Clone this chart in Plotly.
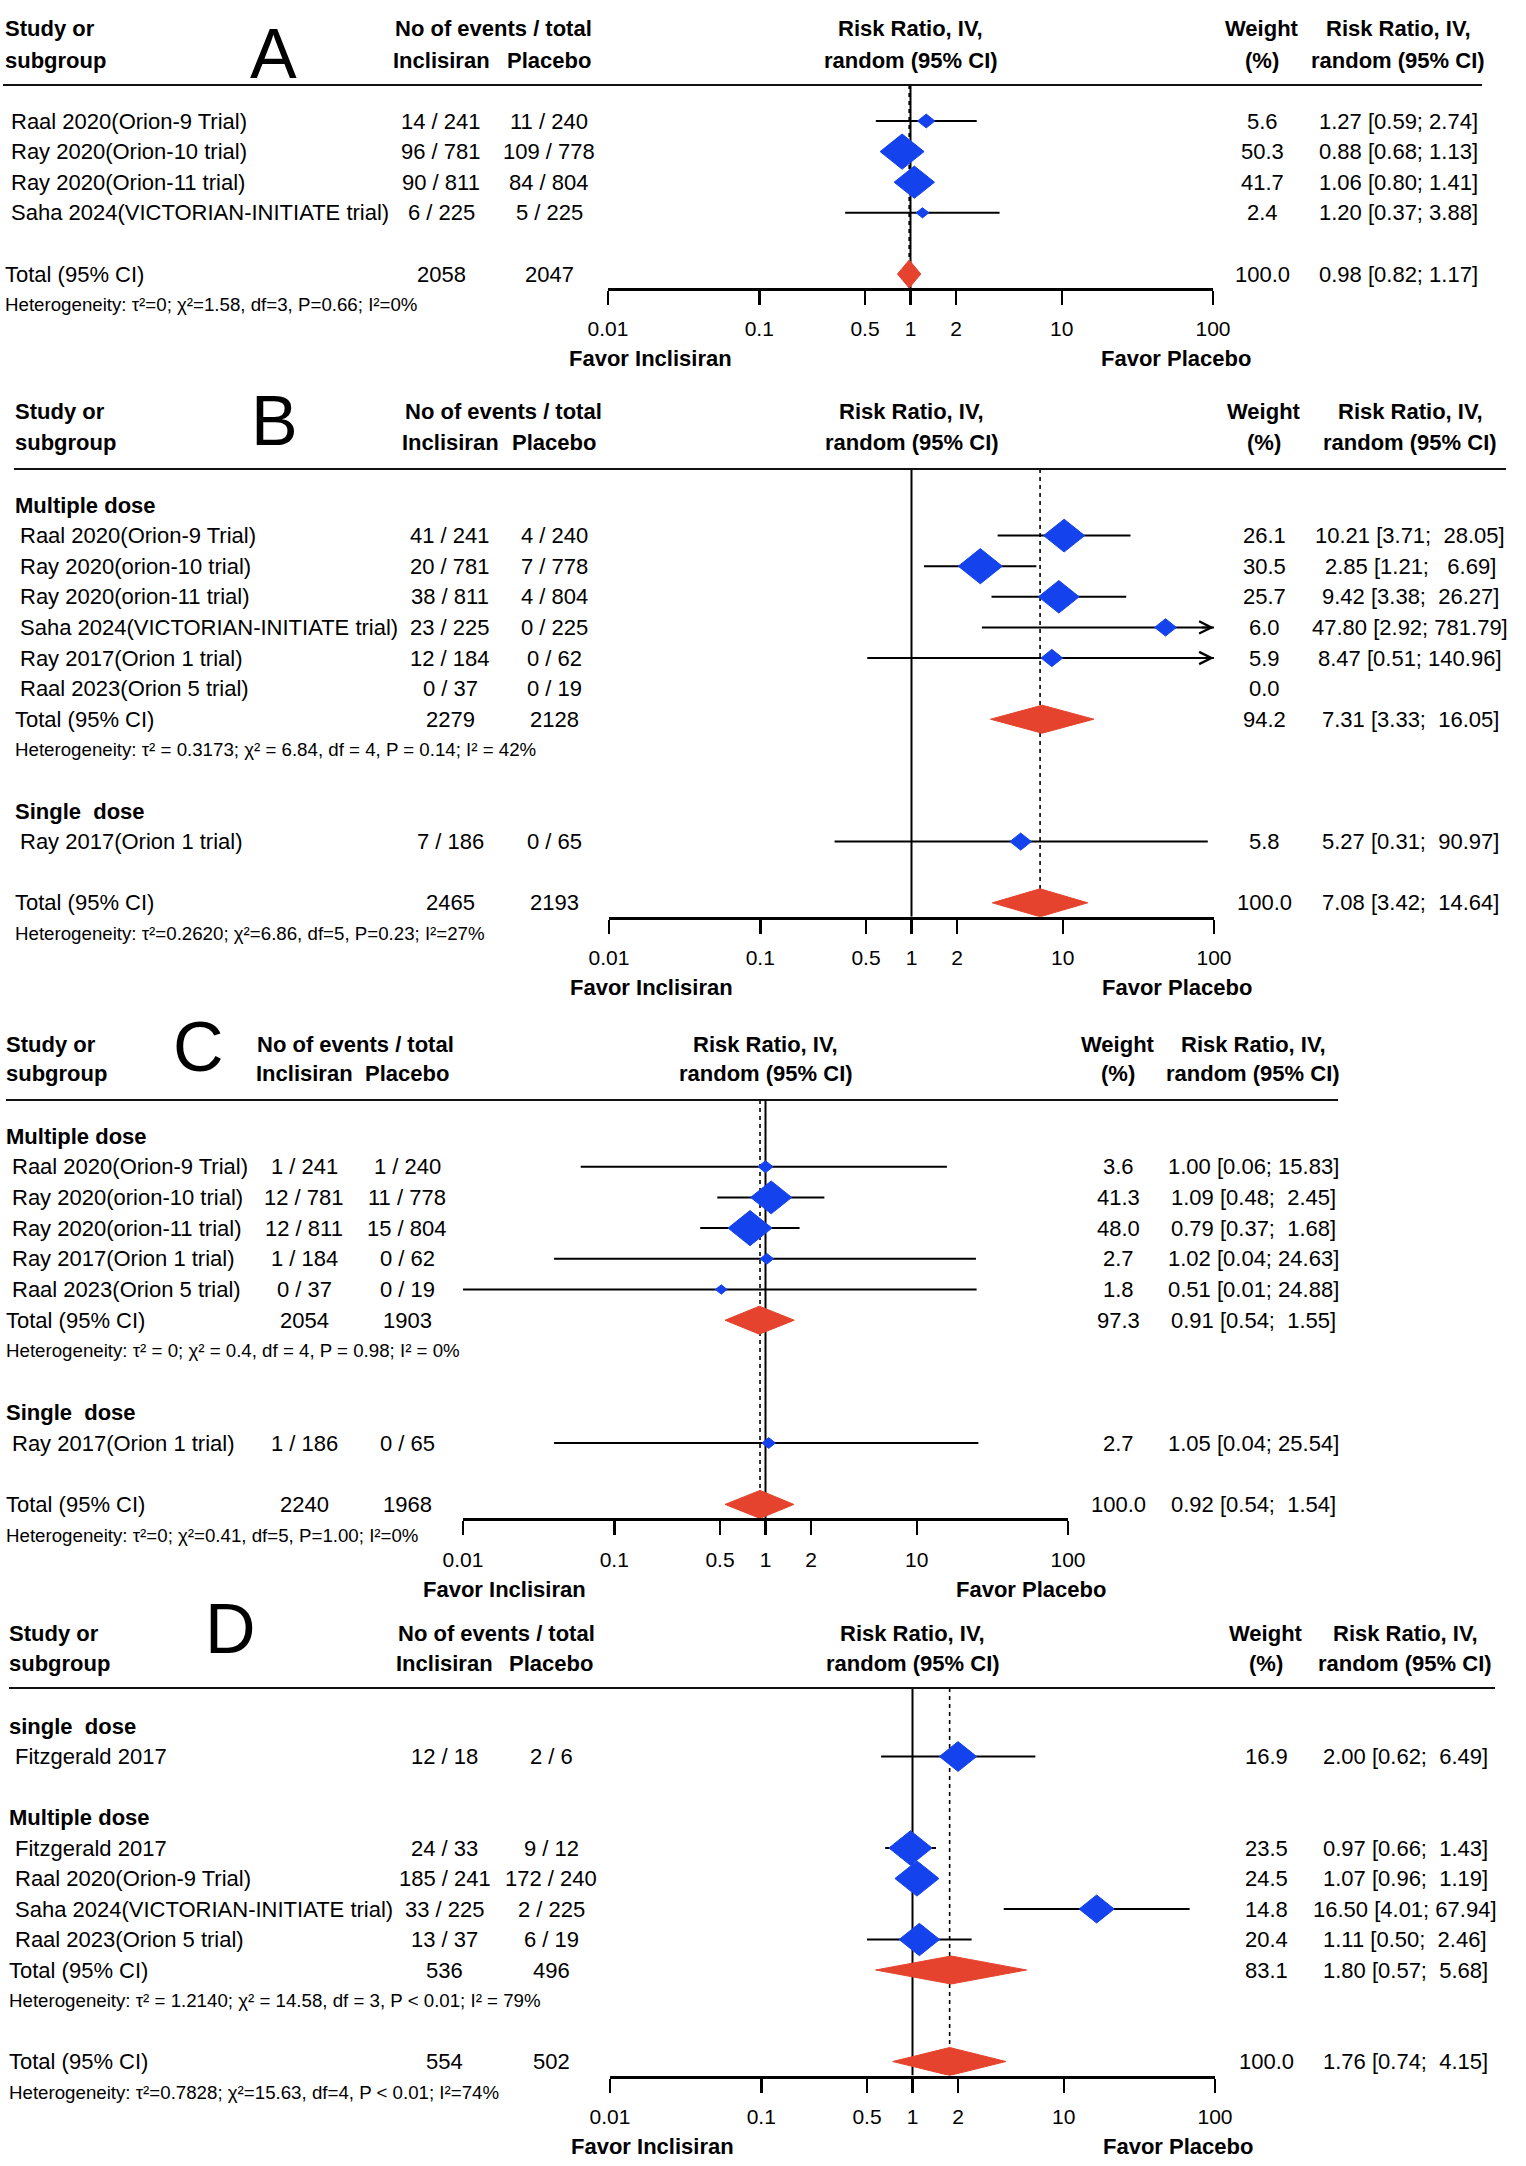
import math
import plotly.graph_objects as go

W, H = 1526, 2166
FONT = "Liberation Sans, Arial, Helvetica, sans-serif"
BLUE = "#1443EE"
RED = "#E5432D"
NULL_RR = 1.0

# ======================= DATA =======================
# ---- Panel A ----
A_study = ["Raal 2020(Orion-9 Trial)", "Ray 2020(Orion-10 trial)", "Ray 2020(Orion-11 trial)",
           "Saha 2024(VICTORIAN-INITIATE trial)"]
A_group = [None, None, None, None]
A_inc_ev = [14, 96, 90, 6]
A_inc_n = [241, 781, 811, 225]
A_pla_ev = [11, 109, 84, 5]
A_pla_n = [240, 778, 804, 225]
A_weight = [5.6, 50.3, 41.7, 2.4]
A_rr = [1.27, 0.88, 1.06, 1.20]
A_lo = [0.59, 0.68, 0.80, 0.37]
A_hi = [2.74, 1.13, 1.41, 3.88]
A_sub_name = []
A_sub_inc = []
A_sub_pla = []
A_sub_weight = []
A_sub_rr = []
A_sub_lo = []
A_sub_hi = []
A_sub_het = []
A_tot_inc = 2058
A_tot_pla = 2047
A_tot_weight = 100.0
A_tot_rr = 0.98
A_tot_lo = 0.82
A_tot_hi = 1.17
A_tot_het = "Heterogeneity: τ²=0; χ²=1.58, df=3, P=0.66; I²=0%"

# ---- Panel B ----
B_study = ["Raal 2020(Orion-9 Trial)", "Ray 2020(orion-10 trial)", "Ray 2020(orion-11 trial)",
           "Saha 2024(VICTORIAN-INITIATE trial)", "Ray 2017(Orion 1 trial)", "Raal 2023(Orion 5 trial)",
           "Ray 2017(Orion 1 trial)"]
B_group = ["Multiple dose", "Multiple dose", "Multiple dose", "Multiple dose", "Multiple dose",
           "Multiple dose", "Single  dose"]
B_inc_ev = [41, 20, 38, 23, 12, 0, 7]
B_inc_n = [241, 781, 811, 225, 184, 37, 186]
B_pla_ev = [4, 7, 4, 0, 0, 0, 0]
B_pla_n = [240, 778, 804, 225, 62, 19, 65]
B_weight = [26.1, 30.5, 25.7, 6.0, 5.9, 0.0, 5.8]
B_rr = [10.21, 2.85, 9.42, 47.80, 8.47, None, 5.27]
B_lo = [3.71, 1.21, 3.38, 2.92, 0.51, None, 0.31]
B_hi = [28.05, 6.69, 26.27, 781.79, 140.96, None, 90.97]
B_sub_name = ["Multiple dose", "Single  dose"]
B_sub_inc = [2279, None]
B_sub_pla = [2128, None]
B_sub_weight = [94.2, None]
B_sub_rr = [7.31, None]
B_sub_lo = [3.33, None]
B_sub_hi = [16.05, None]
B_sub_het = ["Heterogeneity: τ² = 0.3173; χ² = 6.84, df = 4, P = 0.14; I² = 42%", None]
B_tot_inc = 2465
B_tot_pla = 2193
B_tot_weight = 100.0
B_tot_rr = 7.08
B_tot_lo = 3.42
B_tot_hi = 14.64
B_tot_het = "Heterogeneity: τ²=0.2620; χ²=6.86, df=5, P=0.23; I²=27%"

# ---- Panel C ----
C_study = ["Raal 2020(Orion-9 Trial)", "Ray 2020(orion-10 trial)", "Ray 2020(orion-11 trial)",
           "Ray 2017(Orion 1 trial)", "Raal 2023(Orion 5 trial)", "Ray 2017(Orion 1 trial)"]
C_group = ["Multiple dose", "Multiple dose", "Multiple dose", "Multiple dose", "Multiple dose",
           "Single  dose"]
C_inc_ev = [1, 12, 12, 1, 0, 1]
C_inc_n = [241, 781, 811, 184, 37, 186]
C_pla_ev = [1, 11, 15, 0, 0, 0]
C_pla_n = [240, 778, 804, 62, 19, 65]
C_weight = [3.6, 41.3, 48.0, 2.7, 1.8, 2.7]
C_rr = [1.00, 1.09, 0.79, 1.02, 0.51, 1.05]
C_lo = [0.06, 0.48, 0.37, 0.04, 0.01, 0.04]
C_hi = [15.83, 2.45, 1.68, 24.63, 24.88, 25.54]
C_sub_name = ["Multiple dose", "Single  dose"]
C_sub_inc = [2054, None]
C_sub_pla = [1903, None]
C_sub_weight = [97.3, None]
C_sub_rr = [0.91, None]
C_sub_lo = [0.54, None]
C_sub_hi = [1.55, None]
C_sub_het = ["Heterogeneity: τ² = 0; χ² = 0.4, df = 4, P = 0.98; I² = 0%", None]
C_tot_inc = 2240
C_tot_pla = 1968
C_tot_weight = 100.0
C_tot_rr = 0.92
C_tot_lo = 0.54
C_tot_hi = 1.54
C_tot_het = "Heterogeneity: τ²=0; χ²=0.41, df=5, P=1.00; I²=0%"

# ---- Panel D ----
D_study = ["Fitzgerald 2017", "Fitzgerald 2017", "Raal 2020(Orion-9 Trial)",
           "Saha 2024(VICTORIAN-INITIATE trial)", "Raal 2023(Orion 5 trial)"]
D_group = ["single  dose", "Multiple dose", "Multiple dose", "Multiple dose", "Multiple dose"]
D_inc_ev = [12, 24, 185, 33, 13]
D_inc_n = [18, 33, 241, 225, 37]
D_pla_ev = [2, 9, 172, 2, 6]
D_pla_n = [6, 12, 240, 225, 19]
D_weight = [16.9, 23.5, 24.5, 14.8, 20.4]
D_rr = [2.00, 0.97, 1.07, 16.50, 1.11]
D_lo = [0.62, 0.66, 0.96, 4.01, 0.50]
D_hi = [6.49, 1.43, 1.19, 67.94, 2.46]
D_sub_name = ["single  dose", "Multiple dose"]
D_sub_inc = [None, 536]
D_sub_pla = [None, 496]
D_sub_weight = [None, 83.1]
D_sub_rr = [None, 1.80]
D_sub_lo = [None, 0.57]
D_sub_hi = [None, 5.68]
D_sub_het = [None, "Heterogeneity: τ² = 1.2140; χ² = 14.58, df = 3, P &lt; 0.01; I² = 79%"]
D_tot_inc = 554
D_tot_pla = 502
D_tot_weight = 100.0
D_tot_rr = 1.76
D_tot_lo = 0.74
D_tot_hi = 4.15
D_tot_het = "Heterogeneity: τ²=0.7828; χ²=15.63, df=4, P &lt; 0.01; I²=74%"

# axis ticks
TICK_VALS = [0.01, 0.1, 0.5, 1, 2, 10, 100]
TICK_TEXT = ["0.01", "0.1", "0.5", "1", "2", "10", "100"]


# ======================= build panel tables from arrays =======================
def panel(pfx):
    g = globals()
    keys = ["study", "group", "inc_ev", "inc_n", "pla_ev", "pla_n", "weight", "rr", "lo", "hi",
            "sub_name", "sub_inc", "sub_pla", "sub_weight", "sub_rr", "sub_lo", "sub_hi", "sub_het",
            "tot_inc", "tot_pla", "tot_weight", "tot_rr", "tot_lo", "tot_hi", "tot_het"]
    return {k: g[f"{pfx}_{k}"] for k in keys}


PANELS = {k: panel(k) for k in ["A", "B", "C", "D"]}

# ======================= LAYOUT (pixel positions / styles) =======================
LAYOUTS = {
    "A": dict(letter="A", letter_xy=(273, 54), head_y=(29, 61), line_y=85, line_x=(3, 1482),
              first_y=121, pitch=30.6, label_x=5, indent_x=11, incl_x=441, plac_x=549, nev_left=395,
              weight_x=1262, rr_x=1398, x001=608, x100=1213),
    "B": dict(letter="B", letter_xy=(274, 421), head_y=(412, 443), line_y=469, line_x=(14, 1506),
              first_y=505, pitch=30.6, label_x=15, indent_x=20, incl_x=450, plac_x=554, nev_left=405,
              weight_x=1264, rr_x=1410, x001=609, x100=1214),
    "C": dict(letter="C", letter_xy=(199, 1047), head_y=(1044, 1074), line_y=1100, line_x=(6, 1338),
              first_y=1136, pitch=30.7, label_x=6, indent_x=12, incl_x=304, plac_x=407, nev_left=257,
              weight_x=1118, rr_x=1253, x001=463, x100=1068),
    "D": dict(letter="D", letter_xy=(230, 1629), head_y=(1633, 1663), line_y=1688, line_x=(9, 1495),
              first_y=1726, pitch=30.5, label_x=9, indent_x=14.5, incl_x=445, plac_x=551, nev_left=398,
              weight_x=1266, rr_x=1405, x001=610, x100=1215),
}

BODY = 22
TICK = 21
HET = 18.7

annotations = []
shapes = []
traces = []


def nb(s):
    return s.replace(" ", "\u00a0")


def py(y):
    return 1 - y / H


def txt(x, y, s, size=BODY, anchor="left", bold=False):
    if bold:
        s = "<b>" + s + "</b>"
    annotations.append(dict(x=x / W, y=py(y), xref="paper", yref="paper", text=s, showarrow=False,
                            xanchor=anchor, yanchor="middle", borderpad=0, borderwidth=0,
                            font=dict(family=FONT, size=size, color="black")))


def slots(P):
    out = []
    s = 0
    if P["sub_name"]:
        for gi, gname in enumerate(P["sub_name"]):
            out.append((s, "group", gi)); s += 1
            for i, gg in enumerate(P["group"]):
                if gg == gname:
                    out.append((s, "study", i)); s += 1
            if P["sub_inc"][gi] is not None:
                out.append((s, "subtotal", gi)); s += 1
                out.append((s, "subhet", gi)); s += 1
            s += 1
    else:
        for i in range(len(P["study"])):
            out.append((s, "study", i)); s += 1
        s += 1
    out.append((s, "total", None)); s += 1
    out.append((s, "het", None))
    return out


layout_axes = {}
for pi, key in enumerate(["A", "B", "C", "D"]):
    P = PANELS[key]
    L = LAYOUTS[key]
    sfx = "" if pi == 0 else str(pi + 1)
    xa, ya = "x" + sfx, "y" + sfx
    ppd = (L["x100"] - L["x001"]) / 4.0
    x_of = lambda v: L["x001"] + ppd * (math.log10(v) + 2)

    rows = slots(P)
    ry = {}
    for s, kind, idx in rows:
        ry[(kind, idx)] = L["first_y"] + L["pitch"] * s
    total_y = ry[("total", None)]
    axis_y = total_y + 14

    his = [h for h in P["hi"] if h is not None] + [h for h in P["sub_hi"] if h is not None] + [P["tot_hi"]]
    hw = max(len(f"{h:.2f}") for h in his)

    def ci_text(r, lo, hi):
        return nb(f"{r:.2f} [{lo:.2f}; {hi:>{hw}.2f}]")

    # ---- header texts
    hy1, hy2 = L["head_y"]
    txt(L["label_x"], hy1, "Study or", bold=True)
    txt(L["label_x"], hy2, "subgroup", bold=True)
    txt(L["nev_left"], hy1, "No of events / total", bold=True)
    txt(L["incl_x"], hy2, "Inclisiran", anchor="center", bold=True)
    txt(L["plac_x"], hy2, "Placebo", anchor="center", bold=True)
    xc1 = x_of(NULL_RR)
    txt(xc1, hy1, "Risk Ratio, IV,", anchor="center", bold=True)
    txt(xc1, hy2, "random (95% CI)", anchor="center", bold=True)
    txt(L["weight_x"], hy1, "Weight", anchor="center", bold=True)
    txt(L["weight_x"], hy2, "(%)", anchor="center", bold=True)
    txt(L["rr_x"], hy1, "Risk Ratio, IV,", anchor="center", bold=True)
    txt(L["rr_x"], hy2, "random (95% CI)", anchor="center", bold=True)
    lx, ly = L["letter_xy"]
    txt(lx, ly, L["letter"], size=70, anchor="center")

    shapes.append(dict(type="line", xref="paper", yref="paper", x0=L["line_x"][0] / W, x1=L["line_x"][1] / W,
                       y0=py(L["line_y"]), y1=py(L["line_y"]), line=dict(color="#111111", width=2)))

    # ---- reference lines
    traces.append(go.Scatter(x=[NULL_RR, NULL_RR], y=[L["line_y"], axis_y], xaxis=xa, yaxis=ya,
                             mode="lines", line=dict(color="black", width=2), hoverinfo="skip"))
    traces.append(go.Scatter(x=[P["tot_rr"], P["tot_rr"]], y=[L["line_y"], axis_y], xaxis=xa, yaxis=ya,
                             mode="lines", line=dict(color="black", width=1.6, dash="4px,4px"),
                             hoverinfo="skip"))

    ci_x, ci_y = [], []
    dm_x, dm_y = [], []
    sm_x, sm_y = [], []
    wmax = max(P["weight"])
    for s, kind, idx in rows:
        y = ry[(kind, idx)]
        if kind == "group":
            txt(L["label_x"], y, nb(P["sub_name"][idx]), bold=True)
        elif kind == "study":
            i = idx
            txt(L["indent_x"], y, P["study"][i])
            txt(L["incl_x"], y, f"{P['inc_ev'][i]} / {P['inc_n'][i]}", anchor="center")
            txt(L["plac_x"], y, f"{P['pla_ev'][i]} / {P['pla_n'][i]}", anchor="center")
            txt(L["weight_x"], y, f"{P['weight'][i]:.1f}", anchor="center")
            r = P["rr"][i]
            if r is not None:
                lo, hi = P["lo"][i], P["hi"][i]
                txt(L["rr_x"], y, ci_text(r, lo, hi), anchor="center")
                ci_x += [lo, hi, None]
                ci_y += [y, y, None]
                hwp = 2 + 20 * math.sqrt(P["weight"][i] / wmax)
                dl = hwp / ppd
                vh = 0.8 * hwp
                dm_x += [r * 10 ** -dl, r, r * 10 ** dl, r, r * 10 ** -dl, None]
                dm_y += [y, y - vh, y, y + vh, y, None]
                if hi > TICK_VALS[-1]:
                    annotations.append(dict(x=math.log10(TICK_VALS[-1]), y=y, xref=xa, yref=ya, text="",
                                            showarrow=True, ax=-14, ay=0, arrowhead=5, arrowsize=1.2,
                                            arrowwidth=2, arrowcolor="black", standoff=0))
        elif kind in ("subtotal", "total"):
            if kind == "subtotal":
                ninc, npla, w = P["sub_inc"][idx], P["sub_pla"][idx], P["sub_weight"][idx]
                r, lo, hi = P["sub_rr"][idx], P["sub_lo"][idx], P["sub_hi"][idx]
            else:
                ninc, npla, w = P["tot_inc"], P["tot_pla"], P["tot_weight"]
                r, lo, hi = P["tot_rr"], P["tot_lo"], P["tot_hi"]
            txt(L["label_x"], y, "Total (95% CI)")
            txt(L["incl_x"], y, str(ninc), anchor="center")
            txt(L["plac_x"], y, str(npla), anchor="center")
            txt(L["weight_x"], y, f"{w:.1f}", anchor="center")
            txt(L["rr_x"], y, ci_text(r, lo, hi), anchor="center")
            sm_x += [lo, r, hi, r, lo, None]
            sm_y += [y, y - 14, y, y + 14, y, None]
        elif kind == "subhet":
            txt(L["label_x"], y, P["sub_het"][idx], size=HET)
        elif kind == "het":
            txt(L["label_x"], y, P["tot_het"], size=HET)

    traces.append(go.Scatter(x=ci_x, y=ci_y, xaxis=xa, yaxis=ya, mode="lines",
                             line=dict(color="black", width=2), hoverinfo="skip"))
    traces.append(go.Scatter(x=dm_x, y=dm_y, xaxis=xa, yaxis=ya, mode="lines", fill="toself",
                             fillcolor=BLUE, line=dict(color=BLUE, width=1), hoverinfo="skip"))
    traces.append(go.Scatter(x=sm_x, y=sm_y, xaxis=xa, yaxis=ya, mode="lines", fill="toself",
                             fillcolor=RED, line=dict(color=RED, width=1), hoverinfo="skip"))

    txt(L["x001"] + 42, axis_y + 71, "Favor Inclisiran", anchor="center", bold=True)
    txt(L["x100"] - 37, axis_y + 71, "Favor Placebo", anchor="center", bold=True)

    layout_axes["xaxis" + sfx] = dict(
        type="log", range=[-2, 2], domain=[L["x001"] / W, L["x100"] / W], anchor=ya,
        showgrid=False, zeroline=False, showline=True, linewidth=3, automargin=False,
        linecolor="black", ticks="outside", ticklen=14, tickwidth=2.5, tickcolor="black",
        tickvals=TICK_VALS, ticktext=TICK_TEXT, ticklabelstandoff=6,
        tickfont=dict(family=FONT, size=TICK, color="black"), fixedrange=True)
    layout_axes["yaxis" + sfx] = dict(
        range=[axis_y, L["line_y"]], domain=[py(axis_y), py(L["line_y"])], anchor=xa,
        visible=False, showgrid=False, zeroline=False, automargin=False, fixedrange=True)

fig = go.Figure(data=traces)
fig.update_layout(
    template="none",
    width=W, height=H, autosize=False, margin=dict(l=0, r=0, t=0, b=0, pad=0, autoexpand=False),
    paper_bgcolor="white", plot_bgcolor="rgba(0,0,0,0)", showlegend=False, hovermode=False,
    annotations=annotations, shapes=shapes,
    font=dict(family=FONT, size=BODY, color="black"),
    **layout_axes,
)
fig.write_html("out.html", config={"displayModeBar": False, "staticPlot": True},
               post_script="document.body.style.margin='0px';document.body.style.overflow='hidden';")
